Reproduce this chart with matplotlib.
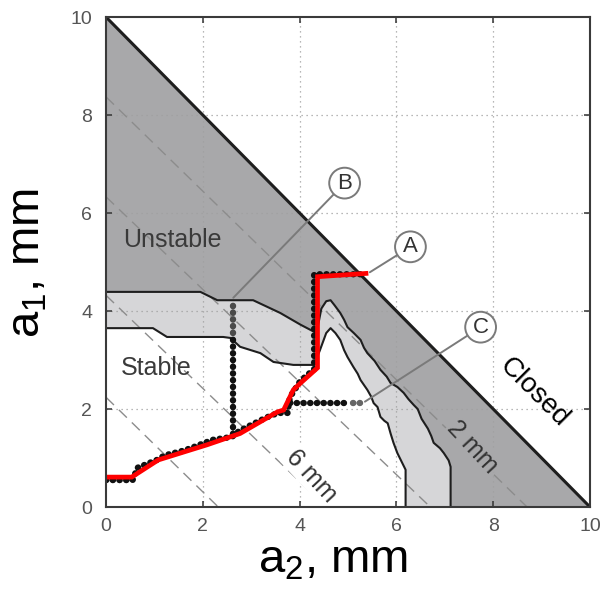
import matplotlib
matplotlib.use("Agg")
import matplotlib.pyplot as plt

plt.rcParams["font.family"] = ["Liberation Sans", "DejaVu Sans"]
plt.rcParams["mathtext.fontset"] = "custom"
plt.rcParams["mathtext.rm"] = "Liberation Sans"
plt.rcParams["mathtext.it"] = "Liberation Sans"
plt.rcParams["mathtext.default"] = "regular"

# ---- data -------------------------------------------------------------
ticks = [0, 2, 4, 6, 8, 10]
tick_labels = ["0", "2", "4", "6", "8", "10"]

closed_a2 = [0, 10]
closed_a1 = [10, 0]

# boundary between unstable (dark) and intermediate (light) regions
upper_a2 = [0, 1.95, 2.3, 3.04, 3.6, 4.02, 4.35, 4.45, 4.55, 4.64, 4.72, 4.84, 4.92,
            4.99, 5.12, 5.26, 5.33, 5.4, 5.55, 5.67, 5.8, 5.88, 6.02, 6.15, 6.25,
            6.36, 6.44, 6.52, 6.65, 6.72, 6.77, 6.9, 6.98, 7.08, 7.12, 7.12]
upper_a1 = [4.39, 4.39, 4.22, 4.22, 3.96, 3.72, 3.55, 4.05, 4.2, 4.22, 4.12, 3.96, 3.82,
            3.67, 3.55, 3.41, 3.25, 3.14, 2.98, 2.8, 2.66, 2.53, 2.45, 2.33, 2.2,
            2.08, 2.0, 1.8, 1.6, 1.45, 1.31, 1.2, 1.1, 0.95, 0.82, 0]

# boundary between intermediate (light) and stable (white) regions
lower_a2 = [0, 0.97, 1.26, 2.42, 2.57, 2.77, 3.19, 3.46, 3.87, 4.3, 4.42, 4.55, 4.64,
            4.74, 4.84, 4.92, 4.99, 5.11, 5.2, 5.26, 5.4, 5.48, 5.53, 5.61, 5.67,
            5.75, 5.82, 5.88, 5.94, 6.02, 6.09, 6.19, 6.19]
lower_a1 = [3.65, 3.65, 3.47, 3.47, 3.45, 3.27, 3.14, 2.96, 2.9, 2.9, 3.2, 3.55, 3.65,
            3.55, 3.41, 3.2, 3.06, 2.86, 2.72, 2.59, 2.39, 2.25, 2.12, 2.04, 1.84,
            1.76, 1.71, 1.5, 1.31, 1.1, 0.96, 0.76, 0]

# constant-gap lines (intercepts on each axis) and their labels
gap_a1_int = [8.37, 6.33, 4.32, 2.24]
gap_a2_int = [8.7, 6.7, 4.55, 2.32]
gap_label_text = ["2 mm", "6 mm"]
gap_label_a2 = [7.58, 4.25]
gap_label_a1 = [1.22, 0.63]

# trajectory A (staircase of samples) and its fitted red curve
path_a_a2 = [0, 0.55, 0.65, 1.1, 1.2, 1.6, 1.75, 2.2, 2.6, 2.75, 2.95, 3.3, 3.55,
             3.75, 3.8, 4.0, 4.15, 4.3, 4.3, 5.3]
path_a_a1 = [0.55, 0.55, 0.8, 0.98, 1.05, 1.15, 1.2, 1.37, 1.43, 1.55, 1.65, 1.82,
             1.92, 1.92, 2.24, 2.55, 2.69, 2.8, 4.75, 4.75]
red_a2 = [0, 0.53, 1.08, 1.6, 2.09, 2.77, 3.54, 3.67, 3.87, 4.02, 4.37, 4.37, 5.42]
red_a1 = [0.61, 0.61, 0.96, 1.12, 1.27, 1.5, 1.94, 1.98, 2.39, 2.53, 2.84, 4.70, 4.77]

# trajectories B and C
path_b_a2 = [2.63, 2.63]
path_b_a1 = [1.5, 3.45]
path_b_top_a2 = [2.63, 2.63]
path_b_top_a1 = [3.55, 4.22]
path_c_a2 = [3.8, 5.0]
path_c_a1 = [2.12, 2.12]
path_c_end_a2 = [5.1, 5.32]
path_c_end_a1 = [2.12, 2.12]

# circled markers: letter, circle centre, end point of the leader
marker_letters = ["A", "B", "C"]
marker_a2 = [6.29, 4.93, 7.74]
marker_a1 = [5.31, 6.61, 3.67]
leader_a2 = [5.45, 2.63, 5.35]
leader_a1 = [4.79, 4.27, 2.15]

region_text = ["Unstable", "Stable"]
region_a2 = [1.37, 1.03]
region_a1 = [5.45, 2.84]

# ---- styling ------------------------------------------------------------
DARK = "#a8a8aa"
LIGHT = "#d6d6d8"
LINE = "#1e1e1e"

fig = plt.figure(figsize=(6.1, 5.9), dpi=100)
ax = fig.add_axes([106 / 610, 1 - 507 / 590, (590 - 106) / 610, (507 - 17) / 590])
ax.set_xlim(0, 10)
ax.set_ylim(0, 10)

# regions
ax.fill(closed_a2 + [0], closed_a1 + [0], color=DARK, lw=0, zorder=1)
ax.fill(upper_a2 + [0], upper_a1 + [0], color=LIGHT, lw=0, zorder=1.1)
ax.fill(lower_a2 + [0], lower_a1 + [0], color="white", lw=0, zorder=1.2)

# grid
for t in ticks[1:-1]:
    ax.axvline(t, color="#a0a0a0", lw=0.9, ls=(0, (1, 3)), zorder=1.5)
    ax.axhline(t, color="#a0a0a0", lw=0.9, ls=(0, (1, 3)), zorder=1.5)

# constant-gap dashed lines
for ya, xa in zip(gap_a1_int, gap_a2_int):
    ax.plot([0, xa], [ya, 0], color="#8c8c8c", lw=1.0, ls=(0, (8, 5)), zorder=1.6)

gap_bg = [DARK, "white"]
for txt, x, y, bg in zip(gap_label_text, gap_label_a2, gap_label_a1, gap_bg):
    ax.text(x, y, txt, rotation=-47, ha="center", va="center", fontsize=18,
            color="#333333", zorder=1.7,
            bbox=dict(boxstyle="square,pad=0.05", fc=bg, ec="none"))

# region boundaries
ax.plot(upper_a2, upper_a1, color=LINE, lw=1.5, zorder=2)
ax.plot(lower_a2, lower_a1, color=LINE, lw=1.5, zorder=2)
ax.plot(closed_a2, closed_a1, color=LINE, lw=2.2, zorder=2.1)

# trajectories drawn as chains of dots
dots = dict(lw=4.6, ls=(0, (0.05, 1.0)), dash_capstyle="round", zorder=3)
ax.plot(path_a_a2, path_a_a1, color="#111111", **dots)
ax.plot(path_b_a2, path_b_a1, color="#111111", **dots)
ax.plot(path_b_top_a2, path_b_top_a1, color="#4a4a4a", **dots)
ax.plot(path_c_a2, path_c_a1, color="#111111", **dots)
ax.plot(path_c_end_a2, path_c_end_a1, color="#666666", **dots)
ax.plot(red_a2, red_a1, color="#ff0000", lw=3.4, solid_joinstyle="miter",
        solid_capstyle="butt", zorder=4)

# circled markers with leaders
for lab, cx, cy, lx, ly in zip(marker_letters, marker_a2, marker_a1, leader_a2, leader_a1):
    ax.annotate(lab, xy=(lx, ly), xytext=(cx, cy), ha="center", va="center",
                fontsize=16, color="#333333", zorder=5,
                bbox=dict(boxstyle="circle,pad=0.22", fc="white", ec="#7a7a7a", lw=1.4),
                arrowprops=dict(arrowstyle="-", color="#7a7a7a", lw=1.4,
                                shrinkA=0, shrinkB=0))

for txt, x, y in zip(region_text, region_a2, region_a1):
    ax.text(x, y, txt, ha="center", va="center", fontsize=18, color="#3a3a3a", zorder=5)

ax.text(8.84, 2.33, "Closed", rotation=-45, ha="center", va="center",
        fontsize=20, color="black", zorder=5)

# axes
ax.set_xticks(ticks)
ax.set_yticks(ticks)
ax.set_xticklabels(tick_labels)
ax.set_yticklabels(tick_labels)
ax.tick_params(direction="in", length=4, width=1.1, color="#333333",
               labelsize=14, labelcolor="#555555", top=True, right=True)
ax.tick_params(axis="x", pad=8)
ax.tick_params(axis="y", pad=10)
for s in ax.spines.values():
    s.set_color("#3a3a3a")
    s.set_linewidth(1.5)
    s.set_zorder(6)

fig.text(333 / 610, 1 - 572 / 590, "a$_2$, mm", ha="center", va="baseline",
         fontsize=34, color="black")
fig.text(40 / 610, 1 - 263 / 590, "a$_1$, mm", ha="center", va="baseline",
         rotation=90, rotation_mode="anchor", fontsize=34, color="black")

fig.savefig("out.png", dpi=100)
